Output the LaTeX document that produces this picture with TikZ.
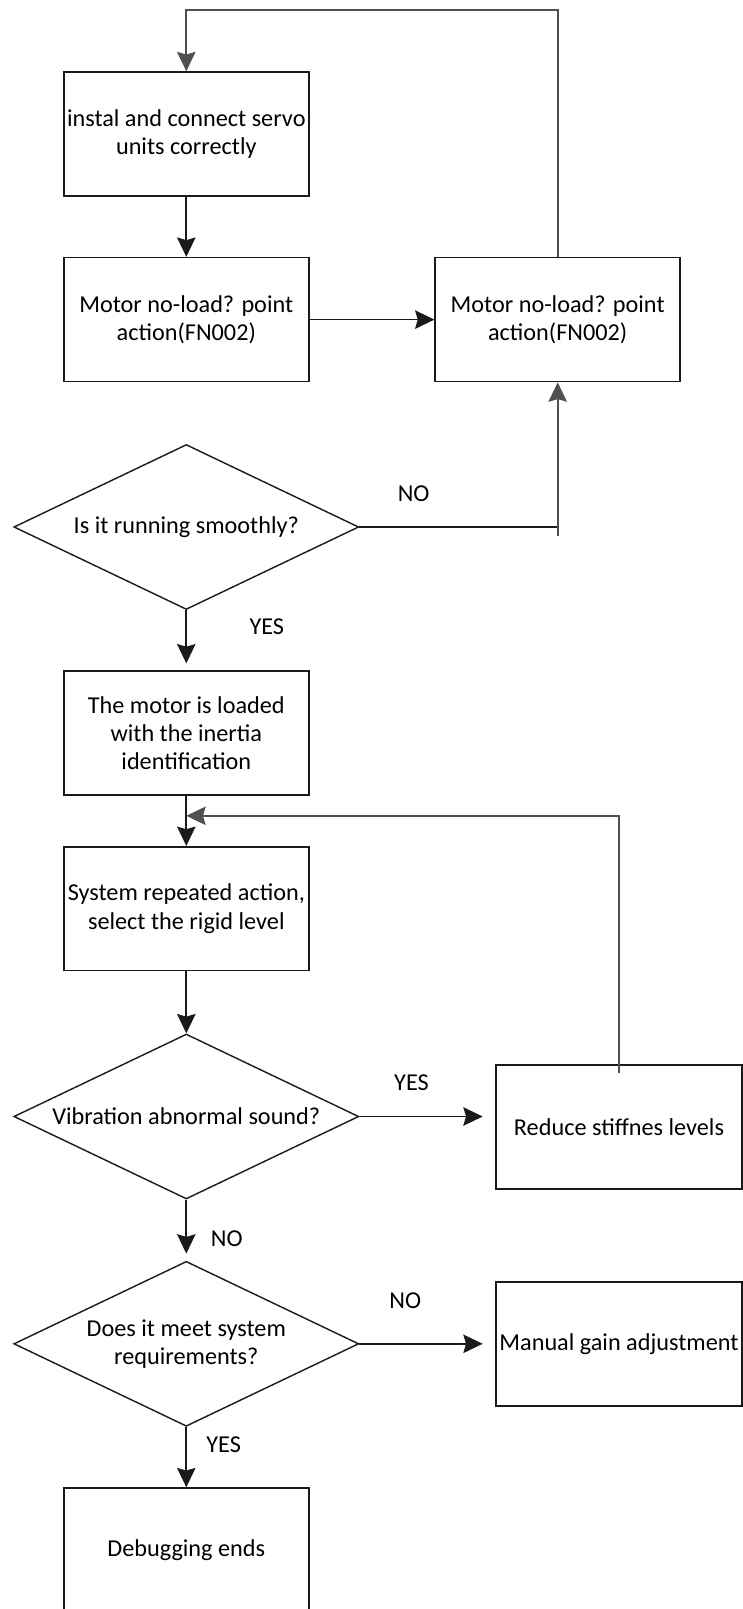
\documentclass[tikz,border=0pt]{standalone}
\usepackage{fontspec}
\setmainfont{Carlito}
\usetikzlibrary{arrows.meta, calc, positioning, shapes.geometric}
\definecolor{edgeblack}{HTML}{1A1A1A}
\definecolor{loopgray}{HTML}{505050}

\begin{document}
\begin{tikzpicture}[x=0.02cm, y=-0.02cm,
  font=\fontsize{13.8}{16}\selectfont,
  stepbox/.style={draw=edgeblack, line width=0.9pt, minimum width=4.9cm,
    minimum height=2.48cm, inner sep=1pt, align=center},
  decision/.style={draw=edgeblack, line width=0.8pt, shape=diamond,
    minimum width=6.9cm, minimum height=3.3cm, inner sep=0pt},
  txt/.style={align=center, inner sep=0pt},
  lbl/.style={inner sep=0pt},
  arr/.style={draw=edgeblack, line width=1pt,
    -{Stealth[length=11pt, width=10.5pt, inset=1.5pt]}},
  flow/.style={draw=edgeblack, line width=1pt}]

\useasboundingbox (0,0) rectangle (743,1609);

\def\cx{186.3}     % main column
\def\rx{619}       % right column (lower boxes)

% --- Main column ---
\node[stepbox] (inst) at (\cx,134)   {instal and connect servo\\units correctly};
\node[stepbox] (mot1) at (\cx,319.6) {Motor no-load? point\\action(FN002)};
\node[stepbox] (mot2) at (557.7,319.6) {Motor no-load? point\\action(FN002)};

\node[decision] (run) at (\cx,527) {};
\node[txt] (runtxt) at (run.center) {Is it running smoothly?};

\node[stepbox] (load) at (\cx,733.2) {The motor is loaded\\with the inertia\\identification};
\node[stepbox] (sys)  at (\cx,908.7) {System repeated action,\\select the rigid level};

\node[decision] (vib) at (\cx,1116.5) {};
\node[txt] (vibtxt) at (vib.center) {Vibration abnormal sound?};
\node[stepbox, minimum width=4.93cm] (reduce) at (\rx,1126.8) {Reduce stiffnes levels};

\node[decision] (meet) at (\cx,1343.8) {};
\node[txt] (meettxt) at (meet.center) {Does it meet system\\requirements?};
\node[stepbox, minimum width=4.93cm] (manual) at (\rx,1343.8) {Manual gain adjustment};

\node[stepbox] (debug) at (\cx,1550) {Debugging ends};

% --- Branch labels ---
\node[lbl] (noRun)   at (413.6,493.6) {NO};
\node[lbl] (yesRun)  at (266.8,627)   {YES};
\node[lbl] (yesVib)  at (411.5,1082.6) {YES};
\node[lbl] (noVib)   at (226.8,1238.6) {NO};
\node[lbl] (noMeet)  at (405.3,1301)  {NO};
\node[lbl] (yesMeet) at (223.7,1445)  {YES};

% --- Loop points ---
\coordinate (looptop) at (\cx,10.3);
\coordinate (runtail) at (557.7,536);
\coordinate (sysjoin) at (\cx,815.8);
\coordinate (redtail) at ($(reduce.north)+(0,9)$);

% --- Connectors ---
\draw[arr] (inst) -- (mot1);
\draw[arr] (mot1) -- (mot2);
\draw[arr, draw=loopgray] (mot2.north) |- (looptop) -- (inst.north);

\draw[flow] (run.east) -- (run.east -| runtail);
\draw[arr, draw=loopgray] (runtail) -- (mot2.south);
\draw[arr, shorten >=4pt] (run.south) -- (load.north);

\draw[arr] (load.south) -- (sys.north);
\draw[arr, draw=loopgray] (redtail) |- (sysjoin);
\draw[arr] (sys.south) -- (vib.north);

\draw[arr, shorten >=7pt] (vib.east) -- (vib.east -| reduce.west);
\draw[arr, shorten >=4pt] (vib.south) -- (meet.north);

\draw[arr, shorten >=7pt] (meet.east) -- (manual.west);
\draw[arr] (meet.south) -- (debug.north);

\end{tikzpicture}
\end{document}
